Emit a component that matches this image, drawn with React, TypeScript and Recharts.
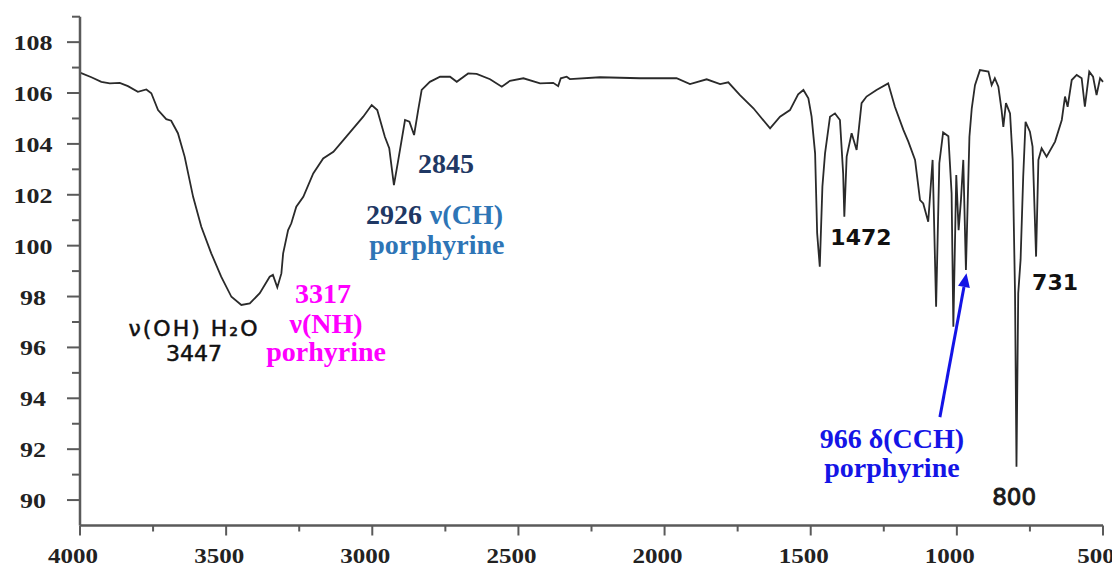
import React from "react";
import { LineChart, Line, XAxis, YAxis, ReferenceDot, ReferenceLine } from "recharts";

// Wavenumber (cm-1) and transmittance (%)
const wavenumber = [
  4000, 3961, 3927, 3898, 3864, 3836, 3802, 3773, 3756, 3733, 3705, 3688, 3665, 3642, 3613, 3585,
  3551, 3517, 3482, 3448, 3419, 3385, 3351, 3340, 3325, 3311, 3305, 3288, 3277, 3260, 3236, 3202,
  3168, 3133, 3099, 3065, 3031, 3002, 2983, 2957, 2942, 2926, 2911, 2888, 2873, 2857, 2843, 2831,
  2803, 2768, 2734, 2711, 2672, 2643, 2597, 2557, 2529, 2483, 2426, 2381, 2364, 2355, 2335, 2324,
  2221, 2084, 1959, 1913, 1856, 1810, 1782, 1742, 1696, 1639, 1605, 1571, 1543, 1525, 1508, 1497,
  1485, 1480, 1478, 1469, 1460, 1451, 1434, 1417, 1400, 1389, 1385, 1377, 1360, 1343, 1326, 1309,
  1275, 1235, 1212, 1183, 1166, 1143, 1126, 1115, 1098, 1083, 1071, 1060, 1047, 1029, 1018, 1012,
  1002, 994, 986, 978, 969, 957, 949, 938, 921, 892, 881, 870, 858, 847, 841, 832,
  818, 809, 801, 796, 790, 782, 773, 765, 750, 741, 729, 721, 710, 693, 664, 641,
  630, 621, 607, 590, 573, 562, 547, 534, 522, 510, 500,
];
const transmittance = [
  106.8, 106.62, 106.44, 106.38, 106.4, 106.27, 106.05, 106.14, 105.99, 105.33, 104.97, 104.91, 104.42, 103.5, 101.92, 100.74,
  99.7, 98.78, 97.99, 97.67, 97.73, 98.13, 98.78, 98.85, 98.36, 98.91, 99.7, 100.61, 100.88, 101.53, 101.92, 102.84,
  103.43, 103.69, 104.15, 104.61, 105.07, 105.53, 105.33, 104.28, 103.83, 102.38, 103.37, 104.94, 104.87, 104.35, 105.33, 106.12,
  106.44, 106.64, 106.64, 106.44, 106.77, 106.75, 106.54, 106.25, 106.48, 106.58, 106.38, 106.4, 106.27, 106.58, 106.64, 106.55,
  106.62, 106.58, 106.58, 106.35, 106.54, 106.35, 106.42, 105.92, 105.4, 104.61, 105.07, 105.33, 105.95, 106.12, 105.79, 105.07,
  103.63, 101.4, 100.49, 99.17, 102.32, 103.63, 105.07, 105.2, 104.94, 102.84, 101.14, 103.5, 104.42, 103.76, 105.6, 105.86,
  106.12, 106.38, 105.46, 104.55, 104.09, 103.37, 101.79, 101.66, 100.94, 103.37, 97.6, 103.24, 104.45, 104.3, 102.06, 96.81,
  102.78, 100.61, 101.79, 103.37, 99.04, 104.28, 105.4, 106.31, 106.9, 106.84, 106.31, 106.58, 106.25, 105.33, 104.67, 105.6,
  105.2, 103.37, 98.13, 91.31, 98.13, 99.44, 102.71, 104.87, 104.48, 103.89, 99.57, 103.37, 103.83, 103.5, 104.09, 104.94,
  105.86, 105.46, 106.51, 106.71, 106.58, 105.46, 106.84, 106.64, 105.92, 106.58, 106.44,
];

const xTicks = [500, 750, 1000, 1250, 1500, 1750, 2000, 2250, 2500, 2750, 3000, 3250, 3500, 3750, 4000];
const yTicks = [90, 91, 92, 93, 94, 95, 96, 97, 98, 99, 100, 101, 102, 103, 104, 105, 106, 107, 108, 109];

// Peak annotations: anchor (wavenumber, transmittance) and text
const peakLabels = [
  { wn: 2748, t: 102.86, kind: "serif", text: "2845", color: "#1f3864" },
  { wn: 2926, t: 100.86, kind: "serif", text: "2926", color: "#1f3864" },
  { wn: 2678, t: 100.86, kind: "serif", text: "ν(CH)", color: "#2e75b6" },
  { wn: 2779, t: 99.66, kind: "serif", text: "porphyrine", color: "#2e75b6" },
  { wn: 3169, t: 97.75, kind: "serif", text: "3317", color: "#ff00ff" },
  { wn: 3158, t: 96.57, kind: "serif", text: "ν(NH)", color: "#ff00ff" },
  { wn: 3158, t: 95.47, kind: "serif", text: "porhyrine", color: "#ff00ff" },
  { wn: 3610, t: 96.45, kind: "sansWide", text: "ν(OH) H₂O", color: "#111111" },
  { wn: 3610, t: 95.47, kind: "sans", text: "3447", color: "#111111" },
  { wn: 1328, t: 100.03, kind: "sansBold", text: "1472", color: "#111111" },
  { wn: 664, t: 98.26, kind: "sansBold", text: "731", color: "#111111" },
  { wn: 804, t: 89.81, kind: "sansMid", text: "800", color: "#1a1a1a" },
  { wn: 1222, t: 92.05, kind: "serif", text: "966 δ(CCH)", color: "#1414e6" },
  { wn: 1222, t: 90.91, kind: "serif", text: "porphyrine", color: "#1414e6" },
];

// Arrow pointing at the 966 band
const arrowFrom = { wn: 1058, t: 93.26 };
const arrowTo = { wn: 967, t: 98.92 };

const data = wavenumber.map((wn, i) => ({ wn, t: transmittance[i] }));

const SERIF = '"Liberation Serif", "Times New Roman", serif';
const SANS = '"DejaVu Sans", Verdana, sans-serif';
const AXIS = "#5a5a5a";

const fontFor = (kind: string, color: string): any => {
  if (kind === "serif") return { fontFamily: SERIF, fontWeight: 700, fontSize: 28 };
  if (kind === "sansBold") return { fontFamily: SANS, fontWeight: 700, fontSize: 22 };
  if (kind === "sansMid")
    return { fontFamily: SANS, fontWeight: 400, fontSize: 23, stroke: color, strokeWidth: 0.9 };
  if (kind === "sansWide")
    return { fontFamily: SANS, fontWeight: 400, fontSize: 22, letterSpacing: 2, stroke: color, strokeWidth: 0.5 };
  return { fontFamily: SANS, fontWeight: 400, fontSize: 22, stroke: color, strokeWidth: 0.5 };
};

const XTick = (props: any) => {
  const { x, y, payload } = props;
  const v = payload.value;
  const major = v % 500 === 0;
  const s = String(v);
  return (
    <g>
      <line x1={x} y1={y} x2={x} y2={y + (major ? 10 : 6)} stroke={AXIS} strokeWidth={2} />
      {major && (
        <text
          x={x - 7}
          y={y + 37}
          textAnchor="middle"
          fontFamily={SERIF}
          fontWeight={700}
          fontSize={21}
          fill="#222"
          textLength={s.length * 12.5}
          lengthAdjust="spacingAndGlyphs"
        >
          {s}
        </text>
      )}
    </g>
  );
};

const YTick = (props: any) => {
  const { x, y, payload } = props;
  const v = payload.value;
  const major = v % 2 === 0;
  const s = String(v);
  return (
    <g>
      <line x1={x} y1={y} x2={x - (major ? 13 : 8)} y2={y} stroke={AXIS} strokeWidth={2} />
      {major && (
        <text
          x={x - 47}
          y={y + 8}
          textAnchor="middle"
          fontFamily={SERIF}
          fontWeight={700}
          fontSize={22}
          fill="#222"
          textLength={s.length * 13}
          lengthAdjust="spacingAndGlyphs"
        >
          {s}
        </text>
      )}
    </g>
  );
};

const ArrowShape = (props: any) => {
  const { x1, y1, x2, y2 } = props;
  if ([x1, y1, x2, y2].some((v) => typeof v !== "number" || isNaN(v))) return null;
  const dx = x2 - x1;
  const dy = y2 - y1;
  const len = Math.sqrt(dx * dx + dy * dy);
  const ux = dx / len;
  const uy = dy / len;
  const head = 14;
  const half = 6;
  const bx = x2 - ux * head;
  const by = y2 - uy * head;
  const pts = `${x2},${y2} ${bx - uy * half},${by + ux * half} ${bx + uy * half},${by - ux * half}`;
  return (
    <g>
      <line x1={x1} y1={y1} x2={bx} y2={by} stroke="#1414e6" strokeWidth={3} />
      <polygon points={pts} fill="#1414e6" />
    </g>
  );
};

export default function App() {
  return (
    <div style={{ width: 1112, height: 560, background: "#fff" }}>
      <LineChart width={1112} height={560} data={data} margin={{ top: 8.7, right: 17, bottom: 2.5, left: 12 }}>
        <XAxis
          type="number"
          dataKey="wn"
          domain={[500, 4000]}
          reversed
          ticks={xTicks}
          interval={0}
          tick={<XTick />}
          tickLine={false}
          tickSize={0}
          tickMargin={0}
          axisLine={{ stroke: AXIS, strokeWidth: 2.5 }}
          height={40}
        />
        <YAxis
          type="number"
          domain={[89, 109]}
          ticks={yTicks}
          interval={0}
          tick={<YTick />}
          tickLine={false}
          tickSize={0}
          tickMargin={0}
          axisLine={{ stroke: AXIS, strokeWidth: 2.5 }}
          width={60}
        />
        <Line
          type="linear"
          dataKey="t"
          stroke="#2a2a2a"
          strokeWidth={1.8}
          dot={false}
          isAnimationActive={false}
        />
        <ReferenceLine
          segment={[
            { x: arrowFrom.wn, y: arrowFrom.t },
            { x: arrowTo.wn, y: arrowTo.t },
          ]}
          ifOverflow="visible"
          shape={ArrowShape}
        />
        {peakLabels.map((p, i) => (
          <ReferenceDot
            key={i}
            x={p.wn}
            y={p.t}
            r={0}
            ifOverflow="visible"
            shape={(sp: any) => (
              <text x={sp.cx} y={sp.cy} textAnchor="middle" fill={p.color} {...fontFor(p.kind, p.color)}>
                {p.text}
              </text>
            )}
          />
        ))}
      </LineChart>
    </div>
  );
}
